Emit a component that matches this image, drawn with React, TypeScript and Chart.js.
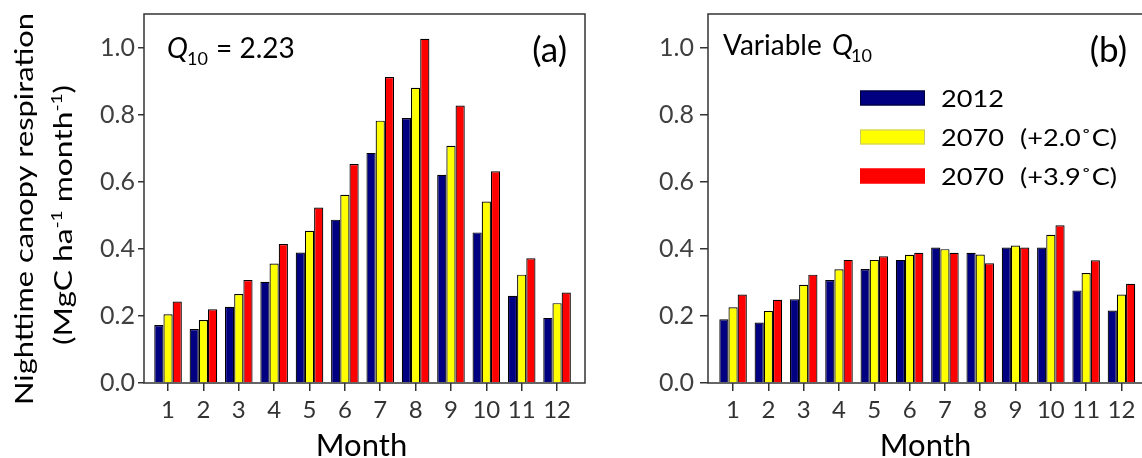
import React, { useEffect, useRef } from "react";
import { Chart, registerables } from "chart.js";

Chart.register(...registerables);

// ---------- data ----------
const months = [1, 2, 3, 4, 5, 6, 7, 8, 9, 10, 11, 12];
const yTicks = [0, 0.2, 0.4, 0.6, 0.8, 1.0];
const seriesNames = ["2012", "2070", "2070"];
const seriesNotes = ["", "(+2.0˚C)", "(+3.9˚C)"];

// Panel (a): Q10 = 2.23
const a2012 = [0.173, 0.161, 0.227, 0.302, 0.389, 0.487, 0.686, 0.79, 0.621, 0.449, 0.26, 0.194];
const a2070low = [0.205, 0.188, 0.265, 0.356, 0.454, 0.561, 0.782, 0.88, 0.707, 0.541, 0.323, 0.238];
const a2070high = [0.243, 0.22, 0.307, 0.414, 0.523, 0.653, 0.912, 1.026, 0.827, 0.631, 0.372, 0.27];

// Panel (b): variable Q10
const b2012 = [0.19, 0.18, 0.25, 0.307, 0.34, 0.367, 0.404, 0.388, 0.404, 0.404, 0.276, 0.216];
const b2070low = [0.226, 0.215, 0.293, 0.339, 0.367, 0.382, 0.399, 0.383, 0.41, 0.442, 0.328, 0.264];
const b2070high = [0.264, 0.248, 0.323, 0.367, 0.378, 0.388, 0.388, 0.357, 0.404, 0.47, 0.366, 0.296];

const COLORS = ["#000080", "#FFFF00", "#FF0000"];
const FONT = "Lato";
const FRAME = "#333333";

type Seg = { t: string; size: number; dy: number };

function drawRotatedLine(ctx: CanvasRenderingContext2D, baseX: number, centerY: number, segs: Seg[], targetLen: number) {
  let total = 0;
  const widths: number[] = [];
  for (const s of segs) {
    ctx.font = `${s.size}px ${FONT}`;
    const w = ctx.measureText(s.t).width;
    widths.push(w);
    total += w;
  }
  const sx = targetLen / total;
  ctx.save();
  ctx.translate(baseX, centerY);
  ctx.rotate(-Math.PI / 2);
  ctx.scale(sx, 1);
  ctx.textAlign = "left";
  ctx.textBaseline = "alphabetic";
  let x = -total / 2;
  segs.forEach((s, i) => {
    ctx.font = `${s.size}px ${FONT}`;
    ctx.fillText(s.t, x, s.dy);
    x += widths[i];
  });
  ctx.restore();
}

function drawStretched(ctx: CanvasRenderingContext2D, text: string, x: number, y: number, font: string, sx: number) {
  ctx.save();
  ctx.translate(x, y);
  ctx.scale(sx, 1);
  ctx.font = font;
  ctx.textAlign = "left";
  ctx.textBaseline = "alphabetic";
  ctx.fillText(text, 0, 0);
  ctx.restore();
}

const framePlugin = {
  id: "frame",
  afterDatasetsDraw(chart: any) {
    const { ctx, chartArea: ca } = chart;
    ctx.save();
    ctx.strokeStyle = FRAME;
    ctx.lineWidth = 1.5;
    ctx.strokeRect(ca.left, ca.top, ca.right - ca.left, ca.bottom - ca.top);
    ctx.restore();
  },
};

const annotA = {
  id: "annotA",
  afterDraw(chart: any) {
    const { ctx, chartArea: ca } = chart;
    ctx.save();
    ctx.fillStyle = "#000";
    ctx.textBaseline = "alphabetic";
    ctx.textAlign = "left";
    ctx.font = `italic 28px ${FONT}`;
    ctx.fillText("Q", 167, 58);
    ctx.font = `18px ${FONT}`;
    ctx.fillText("10", 187, 65);
    ctx.font = `28px ${FONT}`;
    ctx.fillText("= 2.23", 216, 58);
    ctx.font = `35px ${FONT}`;
    ctx.textAlign = "right";
    ctx.fillText("(a)", 567, 62);
    ctx.textAlign = "center";
    ctx.font = `31px ${FONT}`;
    ctx.fillText("Month", (ca.left + ca.right) / 2 - 3, 456);
    drawRotatedLine(ctx, 33, 209, [{ t: "Nighttime canopy respiration", size: 25, dy: 0 }], 392);
    drawRotatedLine(
      ctx,
      72,
      215,
      [
        { t: "(MgC ha", size: 25, dy: 0 },
        { t: "-1", size: 15, dy: -10 },
        { t: " month", size: 25, dy: 0 },
        { t: "-1", size: 15, dy: -10 },
        { t: ")", size: 25, dy: 0 },
      ],
      260
    );
    ctx.restore();
  },
};

const annotB = {
  id: "annotB",
  afterDraw(chart: any) {
    const { ctx, chartArea: ca } = chart;
    ctx.save();
    ctx.fillStyle = "#000";
    ctx.textBaseline = "alphabetic";
    ctx.textAlign = "left";
    ctx.font = `28px ${FONT}`;
    ctx.fillText("Variable", 123, 55);
    ctx.font = `italic 28px ${FONT}`;
    ctx.fillText("Q", 232, 55);
    ctx.font = `18px ${FONT}`;
    ctx.fillText("10", 251, 62);
    ctx.font = `35px ${FONT}`;
    ctx.textAlign = "right";
    ctx.fillText("(b)", 527, 62);
    ctx.textAlign = "center";
    ctx.font = `31px ${FONT}`;
    ctx.fillText("Month", (ca.left + ca.right) / 2 - 3, 456);

    // legend
    const rowY = [98, 137, 176];
    const borders = ["#000030", "#C8C870", "#FF0000"];
    seriesNames.forEach((name, i) => {
      const y = rowY[i];
      ctx.fillStyle = COLORS[i];
      ctx.fillRect(260, y - 7.5, 65, 15);
      ctx.strokeStyle = borders[i];
      ctx.lineWidth = 1;
      ctx.strokeRect(260.5, y - 7, 64, 14);
      ctx.fillStyle = "#000";
      drawStretched(ctx, name, 341, y + 9, `24px ${FONT}`, 1.13);
      if (seriesNotes[i]) drawStretched(ctx, seriesNotes[i], 420, y + 9, `24px ${FONT}`, 1.13);
    });
    ctx.restore();
  },
};

function makeConfig(vals: number[][], opts: { yWidth: number; padRight: number; xMin: number; xMax: number; tickLen: number; tickPad: number; plugin: any }) {
  return {
    type: "bar" as const,
    data: {
      datasets: vals.map((v, i) => ({
        label: seriesNames[i] + (seriesNotes[i] ? " " + seriesNotes[i] : ""),
        data: months.map((m, j) => ({ x: m, y: v[j] })),
        backgroundColor: COLORS[i],
        borderColor: "#000000",
        borderWidth: 1.2,
        categoryPercentage: 0.78,
        barPercentage: 1.0,
      })),
    },
    options: {
      responsive: false,
      animation: false,
      layout: { padding: { left: 0, right: opts.padRight, top: 14, bottom: 0 } },
      plugins: { legend: { display: false }, tooltip: { enabled: false } },
      scales: {
        x: {
          type: "linear",
          min: opts.xMin,
          max: opts.xMax,
          offset: false,
          afterBuildTicks: (s: any) => {
            s.ticks = months.map((m) => ({ value: m }));
          },
          afterFit: (s: any) => {
            s.height = 75;
            s.paddingLeft = 0;
            s.paddingRight = 0;
          },
          ticks: {
            autoSkip: false,
            maxRotation: 0,
            padding: 5,
            color: "#333333",
            font: { family: FONT, size: 24 },
            callback: (v: any) => String(v),
          },
          grid: { offset: false, drawOnChartArea: false, drawTicks: true, tickLength: 8, color: FRAME, lineWidth: 1.5 },
          border: { display: false },
        },
        y: {
          type: "linear",
          min: 0,
          max: 1.1,
          afterBuildTicks: (s: any) => {
            s.ticks = yTicks.map((v) => ({ value: v }));
          },
          afterFit: (s: any) => {
            s.width = opts.yWidth;
            s.paddingTop = 0;
            s.paddingBottom = 0;
          },
          ticks: {
            padding: opts.tickPad,
            color: "#404040",
            font: { family: FONT, size: 25 },
            callback: (v: any) => Number(v).toFixed(1),
          },
          grid: { drawOnChartArea: false, drawTicks: true, tickLength: opts.tickLen, color: FRAME, lineWidth: 1.5 },
          border: { display: false },
        },
      },
    },
    plugins: [framePlugin, opts.plugin],
  };
}

export default function App() {
  const refA = useRef<HTMLCanvasElement>(null);
  const refB = useRef<HTMLCanvasElement>(null);

  useEffect(() => {
    Chart.defaults.font.family = FONT;
    const chA = new Chart(
      refA.current as HTMLCanvasElement,
      makeConfig([a2012, a2070low, a2070high], {
        yWidth: 144,
        padRight: 15,
        xMin: 0.32,
        xMax: 12.79,
        tickLen: 6,
        tickPad: 3,
        plugin: annotA,
      }) as any
    );
    const chB = new Chart(
      refB.current as HTMLCanvasElement,
      makeConfig([b2012, b2070low, b2070high], {
        yWidth: 108,
        padRight: 11,
        xMin: 0.29,
        xMax: 12.78,
        tickLen: 8,
        tickPad: 6,
        plugin: annotB,
      }) as any
    );
    return () => {
      chA.destroy();
      chB.destroy();
    };
  }, []);

  return (
    <div
      style={{
        position: "fixed",
        left: 0,
        top: 0,
        width: 1142,
        height: 458,
        overflow: "hidden",
        background: "#ffffff",
      }}
    >
      <canvas ref={refA} width={600} height={458} style={{ position: "absolute", left: 0, top: 0, width: 600, height: 458 }} />
      <canvas ref={refB} width={560} height={458} style={{ position: "absolute", left: 600, top: 0, width: 560, height: 458 }} />
    </div>
  );
}
